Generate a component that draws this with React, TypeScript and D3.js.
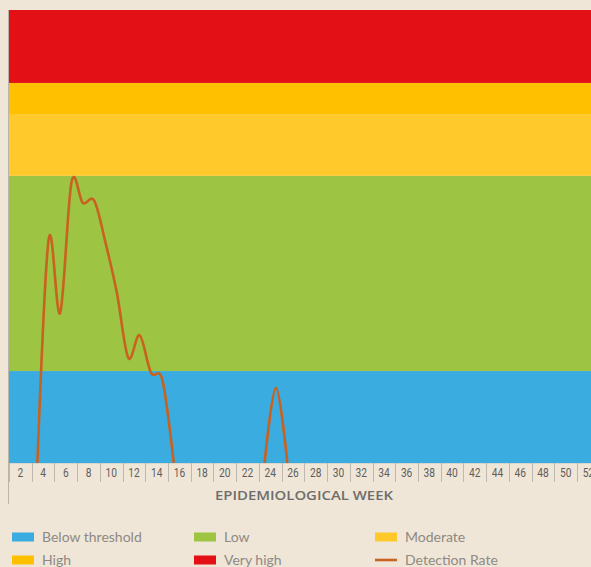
import React from "react";
import * as d3 from "d3";

const weekLabels = [2,4,6,8,10,12,14,16,18,20,22,24,26,28,30,32,34,36,38,40,42,44,46,48,50,52];
const weeks = [1,2,3,4,5,6,7,8,9,10,11,12,13,14,15,16,17,18,19,20,21,22,23,24,25,26];
const detectionRate: (number | null)[] = [null,null,0,4.95,3.31,6.2,5.74,5.79,4.86,3.75,2.32,2.82,1.99,1.83,0,null,null,null,null,null,null,null,0,1.66,0,null];

const bandNames = ["Below threshold","Low","Moderate","High","Very high"];
const bandLower = [0, 2.03, 6.34, 7.7, 8.39];
const bandUpper = [2.03, 6.34, 7.7, 8.39, 10];
const bandColors = ["#3AACE0","#9DC443","#FFC82B","#FFC000","#E31016"];
const lineColor = "#C9621F";

const legendItems = [
  { name: "Below threshold", color: "#3AACE0", type: "rect" },
  { name: "Low", color: "#9DC443", type: "rect" },
  { name: "Moderate", color: "#FFC82B", type: "rect" },
  { name: "High", color: "#FFC000", type: "rect" },
  { name: "Very high", color: "#E31016", type: "rect" },
  { name: "Detection Rate", color: lineColor, type: "line" },
];

export default function App() {
  const W = 591, H = 567;
  const left = 9, top = 10, bottom = 463;
  const step = 11.36;
  const x = d3.scaleLinear().domain([0.5, 52.5]).range([left, left + 52 * step]);
  const y = d3.scaleLinear().domain([0, 10]).range([bottom, top]);
  const right = x(52.5);

  const pts = weeks.map((w, i) => ({ w, v: detectionRate[i] }));
  const line = d3.line<{ w: number; v: number | null }>()
    .defined(d => d.v !== null)
    .x(d => x(d.w))
    .y(d => y(d.v as number))
    .curve(d3.curveCardinal.tension(0));

  const dividers = [0.5, ...weekLabels.map(l => l + 0.5)];
  const colX = [12, 194, 375];
  const rowY = [537, 560];

  return (
    <svg width={W} height={H} style={{ position: "absolute", left: 0, top: 0, background: "#EFE6D7" }}>
      <rect x={0} y={0} width={W} height={H} fill="#EFE6D7" />
      <defs>
        <clipPath id="plotclip">
          <rect x={left} y={top} width={right - left} height={bottom - top} />
        </clipPath>
      </defs>
      {bandNames.map((n, i) => (
        <rect key={n} x={left} y={y(bandUpper[i])} width={right - left}
          height={y(bandLower[i]) - y(bandUpper[i])} fill={bandColors[i]} />
      ))}
      <path d={line(pts) || ""} fill="none" stroke={lineColor} strokeWidth={2.6}
        clipPath="url(#plotclip)" strokeLinejoin="round" />
      <line x1={left} x2={right} y1={bottom + 0.5} y2={bottom + 0.5} stroke="#D9D4CC" strokeWidth={1} />
      <line x1={8.5} x2={8.5} y1={top} y2={504} stroke="#B9B4AC" strokeWidth={1} />
      {dividers.map(d => (
        <line key={d} x1={Math.round(x(d)) + 0.5} x2={Math.round(x(d)) + 0.5} y1={bottom} y2={482}
          stroke="#BDB8B0" strokeWidth={1} />
      ))}
      {weekLabels.map(l => (
        <text key={l} transform={`translate(${x(l - 0.5)},477) scale(0.85,1)`} textAnchor="middle"
          fontFamily="Roboto, sans-serif" fontSize={12} fill="#5E5E5E">{l}</text>
      ))}
      <text x={304} y={500} textAnchor="middle" fontFamily="'Open Sans', sans-serif" fontWeight={600}
        fontSize={13} fill="#6E6D6B" textLength={178} lengthAdjust="spacingAndGlyphs">EPIDEMIOLOGICAL WEEK</text>
      {legendItems.map((it, i) => {
        const cx = colX[i % 3];
        const cy = rowY[Math.floor(i / 3)];
        return (
          <g key={it.name}>
            {it.type === "rect" ? (
              <rect x={cx} y={cy - 4.5} width={22} height={9} fill={it.color} />
            ) : (
              <line x1={cx} x2={cx + 22} y1={cy} y2={cy} stroke={it.color} strokeWidth={2.6} />
            )}
            <text x={cx + 30} y={cy + 5} fontFamily="Lato, 'Open Sans', sans-serif" fontSize={14}
              fill="#8E8984">{it.name}</text>
          </g>
        );
      })}
    </svg>
  );
}
